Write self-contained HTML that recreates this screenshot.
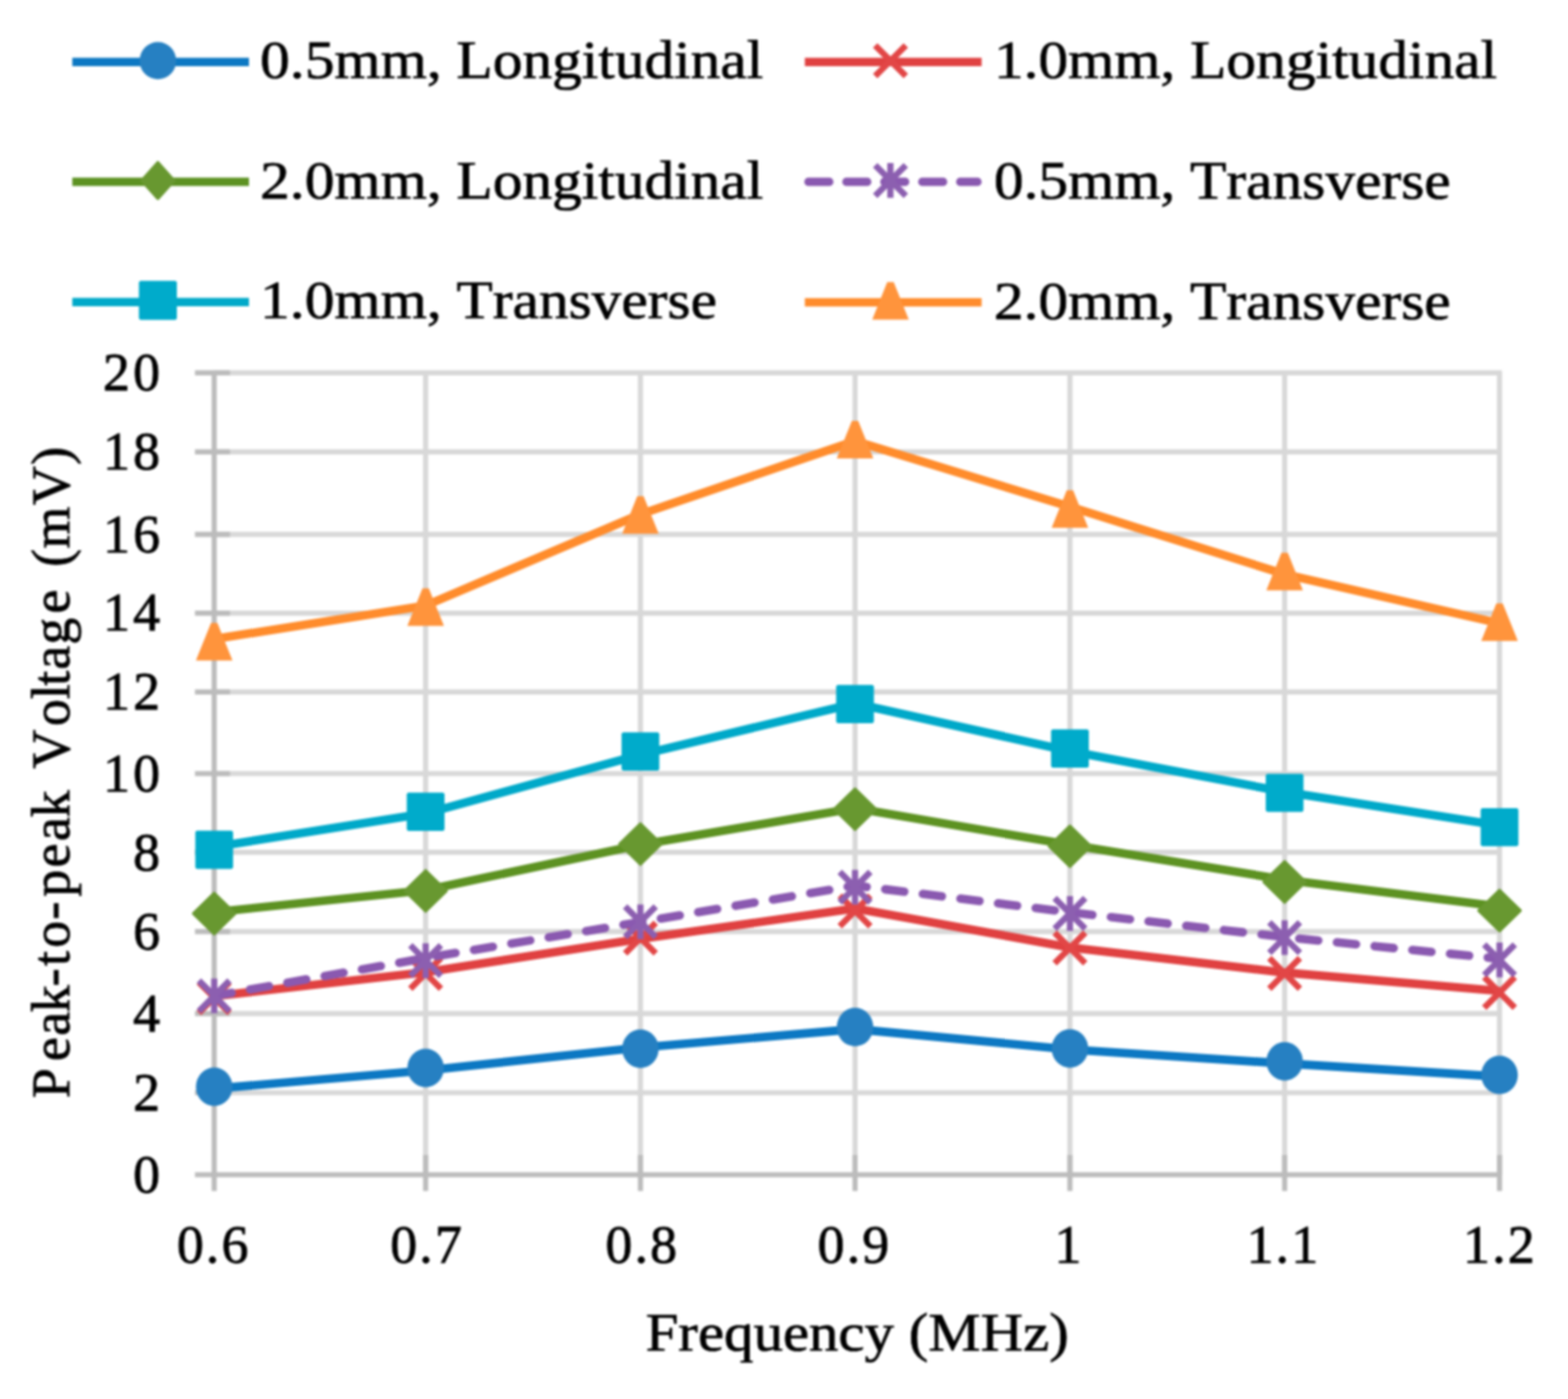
<!DOCTYPE html>
<html lang="en"><head><meta charset="utf-8"><title>Peak-to-peak Voltage vs Frequency</title>
<style>html,body{margin:0;padding:0;background:#fff}body{width:1587px;height:1416px;overflow:hidden}svg{display:block;filter:blur(1.3px)}text{font-family:"Liberation Serif","Times New Roman",serif;font-size:55.3px;font-kerning:none;fill:#000;stroke:#000;stroke-width:0.7px}</style></head><body>
<svg width="1587" height="1416" viewBox="0 0 1587 1416" role="img" aria-label="Line chart of peak-to-peak voltage (mV) versus frequency (MHz)">
<rect x="-20" y="-20" width="1627" height="1456" fill="#fff"/>
<g stroke="#D8D8D8" stroke-width="5.2" fill="none">
<line x1="216.8" y1="1106.0" x2="1519.7" y2="1106.0"/>
<line x1="216.8" y1="1025.8" x2="1519.7" y2="1025.8"/>
<line x1="216.8" y1="942.9" x2="1519.7" y2="942.9"/>
<line x1="216.8" y1="862.7" x2="1519.7" y2="862.7"/>
<line x1="216.8" y1="783.0" x2="1519.7" y2="783.0"/>
<line x1="216.8" y1="700.4" x2="1519.7" y2="700.4"/>
<line x1="216.8" y1="620.6" x2="1519.7" y2="620.6"/>
<line x1="216.8" y1="540.8" x2="1519.7" y2="540.8"/>
<line x1="216.8" y1="457.3" x2="1519.7" y2="457.3"/>
<line x1="216.8" y1="377.4" x2="1519.7" y2="377.4"/>
<line x1="430.8" y1="375.4" x2="430.8" y2="1189.0"/>
<line x1="648.2" y1="375.4" x2="648.2" y2="1189.0"/>
<line x1="865.4" y1="375.4" x2="865.4" y2="1189.0"/>
<line x1="1082.9" y1="375.4" x2="1082.9" y2="1189.0"/>
<line x1="1300.2" y1="375.4" x2="1300.2" y2="1189.0"/>
<line x1="1517.7" y1="375.4" x2="1517.7" y2="1189.0"/>
</g>
<g stroke="#BCBCBC" stroke-width="5.2" fill="none">
<line x1="216.8" y1="375.4" x2="216.8" y2="1205.5"/>
<line x1="197.3" y1="1189.0" x2="1519.7" y2="1189.0"/>
<line x1="197.3" y1="1106.0" x2="232.8" y2="1106.0"/>
<line x1="197.3" y1="1025.8" x2="232.8" y2="1025.8"/>
<line x1="197.3" y1="942.9" x2="232.8" y2="942.9"/>
<line x1="197.3" y1="862.7" x2="232.8" y2="862.7"/>
<line x1="197.3" y1="783.0" x2="232.8" y2="783.0"/>
<line x1="197.3" y1="700.4" x2="232.8" y2="700.4"/>
<line x1="197.3" y1="620.6" x2="232.8" y2="620.6"/>
<line x1="197.3" y1="540.8" x2="232.8" y2="540.8"/>
<line x1="197.3" y1="457.3" x2="232.8" y2="457.3"/>
<line x1="197.3" y1="377.4" x2="232.8" y2="377.4"/>
<line x1="430.8" y1="1169.0" x2="430.8" y2="1205.5"/>
<line x1="648.2" y1="1169.0" x2="648.2" y2="1205.5"/>
<line x1="865.4" y1="1169.0" x2="865.4" y2="1205.5"/>
<line x1="1082.9" y1="1169.0" x2="1082.9" y2="1205.5"/>
<line x1="1300.2" y1="1169.0" x2="1300.2" y2="1205.5"/>
<line x1="1517.7" y1="1169.0" x2="1517.7" y2="1205.5"/>
</g>
<polyline points="216.8,1101.9 430.8,1083.5 648.2,1060.3 865.4,1041.6 1082.9,1062.2 1300.2,1076.4 1517.7,1089.6" fill="none" stroke="#0C78C3" stroke-width="8.6" stroke-linejoin="round"/>
<ellipse cx="216.8" cy="1100.0" rx="18.5" ry="19.5" fill="#2680C2"/>
<ellipse cx="430.8" cy="1081.0" rx="18.5" ry="19.5" fill="#2680C2"/>
<ellipse cx="648.2" cy="1061.5" rx="18.5" ry="19.5" fill="#2680C2"/>
<ellipse cx="865.4" cy="1039.6" rx="18.5" ry="19.5" fill="#2680C2"/>
<ellipse cx="1082.9" cy="1061.2" rx="18.5" ry="19.5" fill="#2680C2"/>
<ellipse cx="1300.2" cy="1074.3" rx="18.5" ry="19.5" fill="#2680C2"/>
<ellipse cx="1517.7" cy="1088.0" rx="18.5" ry="19.5" fill="#2680C2"/>
<polyline points="216.8,1008.3 430.8,983.9 648.2,950.3 865.4,919.5 1082.9,958.9 1300.2,984.4 1517.7,1003.0" fill="none" stroke="#E04141" stroke-width="8.6" stroke-linejoin="round"/>
<path d="M201.3 994.2L232.3 1025.2M201.3 1025.2L232.3 994.2" stroke="#E24646" stroke-width="6.3" fill="none"/>
<path d="M415.3 969.8L446.3 1000.8M415.3 1000.8L446.3 969.8" stroke="#E24646" stroke-width="6.3" fill="none"/>
<path d="M632.7 934.0L663.7 965.0M632.7 965.0L663.7 934.0" stroke="#E24646" stroke-width="6.3" fill="none"/>
<path d="M849.9 906.5L880.9 937.5M849.9 937.5L880.9 906.5" stroke="#E24646" stroke-width="6.3" fill="none"/>
<path d="M1067.4 944.1L1098.4 975.1M1067.4 975.1L1098.4 944.1" stroke="#E24646" stroke-width="6.3" fill="none"/>
<path d="M1284.7 969.7L1315.7 1000.7M1284.7 1000.7L1315.7 969.7" stroke="#E24646" stroke-width="6.3" fill="none"/>
<path d="M1502.2 989.1L1533.2 1020.1M1502.2 1020.1L1533.2 989.1" stroke="#E24646" stroke-width="6.3" fill="none"/>
<polyline points="216.8,923.2 430.8,901.0 648.2,855.0 865.4,818.1 1082.9,855.1 1300.2,890.4 1517.7,917.4" fill="none" stroke="#5D9222" stroke-width="8.6" stroke-linejoin="round"/>
<path d="M216.8 904.1L237.8 924.6L216.8 945.1L195.8 924.6Z" fill="#689830" stroke="#689830" stroke-width="3" stroke-linejoin="round"/>
<path d="M430.8 881.2L451.8 901.7L430.8 922.2L409.8 901.7Z" fill="#689830" stroke="#689830" stroke-width="3" stroke-linejoin="round"/>
<path d="M648.2 833.8L669.2 854.3L648.2 874.8L627.2 854.3Z" fill="#689830" stroke="#689830" stroke-width="3" stroke-linejoin="round"/>
<path d="M865.4 798.5L886.4 819.0L865.4 839.5L844.4 819.0Z" fill="#689830" stroke="#689830" stroke-width="3" stroke-linejoin="round"/>
<path d="M1082.9 836.0L1103.9 856.5L1082.9 877.0L1061.9 856.5Z" fill="#689830" stroke="#689830" stroke-width="3" stroke-linejoin="round"/>
<path d="M1300.2 872.1L1321.2 892.6L1300.2 913.1L1279.2 892.6Z" fill="#689830" stroke="#689830" stroke-width="3" stroke-linejoin="round"/>
<path d="M1517.7 901.1L1538.7 921.6L1517.7 942.1L1496.7 921.6Z" fill="#689830" stroke="#689830" stroke-width="3" stroke-linejoin="round"/>
<polyline points="216.8,1008.1 430.8,969.6 648.2,933.2 865.4,896.3 1082.9,923.4 1300.2,948.5 1517.7,970.4" fill="none" stroke="#8A59B0" stroke-width="8.6" stroke-linejoin="round" stroke-dasharray="19.4 18.96" stroke-dashoffset="1.5" stroke-linecap="round"/>
<path d="M201.3 992.5L232.3 1023.5M201.3 1023.5L232.3 992.5M216.8 990.4L216.8 1025.6" stroke="#8C5FB0" stroke-width="6.3" fill="none"/>
<path d="M415.3 956.8L446.3 987.8M415.3 987.8L446.3 956.8M430.8 954.7L430.8 989.9" stroke="#8C5FB0" stroke-width="6.3" fill="none"/>
<path d="M632.7 917.5L663.7 948.5M632.7 948.5L663.7 917.5M648.2 915.4L648.2 950.6" stroke="#8C5FB0" stroke-width="6.3" fill="none"/>
<path d="M849.9 882.5L880.9 913.5M849.9 913.5L880.9 882.5M865.4 880.4L865.4 915.6" stroke="#8C5FB0" stroke-width="6.3" fill="none"/>
<path d="M1067.4 909.1L1098.4 940.1M1067.4 940.1L1098.4 909.1M1082.9 907.0L1082.9 942.2" stroke="#8C5FB0" stroke-width="6.3" fill="none"/>
<path d="M1284.7 933.5L1315.7 964.5M1284.7 964.5L1315.7 933.5M1300.2 931.4L1300.2 966.6" stroke="#8C5FB0" stroke-width="6.3" fill="none"/>
<path d="M1502.2 956.1L1533.2 987.1M1502.2 987.1L1533.2 956.1M1517.7 954.0L1517.7 989.2" stroke="#8C5FB0" stroke-width="6.3" fill="none"/>
<polyline points="216.8,857.2 430.8,823.3 648.2,763.9 865.4,712.0 1082.9,760.3 1300.2,801.5 1517.7,835.5" fill="none" stroke="#00A9C9" stroke-width="8.6" stroke-linejoin="round"/>
<rect x="197.7" y="840.8" width="38.2" height="38.6" rx="2" fill="#00ABCB"/>
<rect x="411.7" y="802.3" width="38.2" height="38.6" rx="2" fill="#00ABCB"/>
<rect x="629.1" y="741.3" width="38.2" height="38.6" rx="2" fill="#00ABCB"/>
<rect x="846.3" y="693.3" width="38.2" height="38.6" rx="2" fill="#00ABCB"/>
<rect x="1063.8" y="738.3" width="38.2" height="38.6" rx="2" fill="#00ABCB"/>
<rect x="1281.1" y="783.2" width="38.2" height="38.6" rx="2" fill="#00ABCB"/>
<rect x="1498.6" y="817.9" width="38.2" height="38.6" rx="2" fill="#00ABCB"/>
<polyline points="216.8,646.8 430.8,612.9 648.2,520.5 865.4,446.4 1082.9,512.9 1300.2,581.2 1517.7,630.9" fill="none" stroke="#FF8C2C" stroke-width="8.6" stroke-linejoin="round"/>
<path d="M213.6 630.5L220.0 630.5L235.3 668.5L198.3 668.5Z" fill="#FF943C"/>
<path d="M427.6 595.4L434.0 595.4L449.3 633.4L412.3 633.4Z" fill="#FF943C"/>
<path d="M645.0 502.3L651.4 502.3L666.7 540.3L629.7 540.3Z" fill="#FF943C"/>
<path d="M862.2 426.0L868.6 426.0L883.9 464.0L846.9 464.0Z" fill="#FF943C"/>
<path d="M1079.7 496.3L1086.1 496.3L1101.4 534.3L1064.4 534.3Z" fill="#FF943C"/>
<path d="M1297.0 559.6L1303.4 559.6L1318.7 597.6L1281.7 597.6Z" fill="#FF943C"/>
<path d="M1514.5 610.7L1520.9 610.7L1536.2 648.7L1499.2 648.7Z" fill="#FF943C"/>
<text x="165.3" y="1206.8" text-anchor="end" style="font-size:54.5px;letter-spacing:3.3px;stroke-width:0.8px">0</text>
<text x="165.3" y="1123.8" text-anchor="end" style="font-size:54.5px;letter-spacing:3.3px;stroke-width:0.8px">2</text>
<text x="165.3" y="1043.6" text-anchor="end" style="font-size:54.5px;letter-spacing:3.3px;stroke-width:0.8px">4</text>
<text x="165.3" y="960.7" text-anchor="end" style="font-size:54.5px;letter-spacing:3.3px;stroke-width:0.8px">6</text>
<text x="165.3" y="880.5" text-anchor="end" style="font-size:54.5px;letter-spacing:3.3px;stroke-width:0.8px">8</text>
<text x="165.3" y="800.8" text-anchor="end" style="font-size:54.5px;letter-spacing:3.3px;stroke-width:0.8px">10</text>
<text x="165.3" y="718.2" text-anchor="end" style="font-size:54.5px;letter-spacing:3.3px;stroke-width:0.8px">12</text>
<text x="165.3" y="638.4" text-anchor="end" style="font-size:54.5px;letter-spacing:3.3px;stroke-width:0.8px">14</text>
<text x="165.3" y="558.6" text-anchor="end" style="font-size:54.5px;letter-spacing:3.3px;stroke-width:0.8px">16</text>
<text x="165.3" y="475.1" text-anchor="end" style="font-size:54.5px;letter-spacing:3.3px;stroke-width:0.8px">18</text>
<text x="165.3" y="395.2" text-anchor="end" style="font-size:54.5px;letter-spacing:3.3px;stroke-width:0.8px">20</text>
<text x="216.3" y="1278" text-anchor="middle" style="font-size:54.5px;letter-spacing:2.2px;stroke-width:0.8px">0.6</text>
<text x="432.3" y="1278" text-anchor="middle" style="font-size:54.5px;letter-spacing:2.2px;stroke-width:0.8px">0.7</text>
<text x="650.2" y="1278" text-anchor="middle" style="font-size:54.5px;letter-spacing:2.2px;stroke-width:0.8px">0.8</text>
<text x="864.9" y="1278" text-anchor="middle" style="font-size:54.5px;letter-spacing:2.2px;stroke-width:0.8px">0.9</text>
<text x="1082.0" y="1278" text-anchor="middle" style="font-size:54.5px;letter-spacing:2.2px;stroke-width:0.8px">1</text>
<text x="1299.0" y="1278" text-anchor="middle" style="font-size:54.5px;letter-spacing:2.2px;stroke-width:0.8px">1.1</text>
<text x="1518.2" y="1278" text-anchor="middle" style="font-size:54.5px;letter-spacing:2.2px;stroke-width:0.8px">1.2</text>
<text transform="translate(867.6 1367.0) scale(1.077 1)" text-anchor="middle">Frequency (MHz)</text>
<text transform="translate(69.5 780.1) rotate(-90)" text-anchor="middle" dx="-0.8 5.1 -0.6 -2.8 -3.1 0.2 1.1 -0.9 2.9 -0.1 0.4 -2.4 0 4 1.5 -2.3 -3.6 -1.1 -1.1 2 0 5.1 -1.9 -0.7 -0.8" style="font-size:54.5px;letter-spacing:2.2px;stroke-width:0.8px">Peak-to-peak Voltage (mV)</text>
<line x1="73.2" y1="62.7" x2="252" y2="62.7" stroke="#0C78C3" stroke-width="8.5"/>
<ellipse cx="159.8" cy="61.4" rx="18.5" ry="18.9" fill="#2680C2"/>
<text transform="translate(263.3 79.3) scale(1.087 1)">0.5mm, Longitudinal</text>
<line x1="814.6" y1="62.8" x2="993.5" y2="62.8" stroke="#E04141" stroke-width="8.5"/>
<path d="M885.8 46.0L916.8 77.0M885.8 77.0L916.8 46.0" stroke="#E24646" stroke-width="6.3" fill="none"/>
<text transform="translate(1005.9 79.4) scale(1.087 1)">1.0mm, Longitudinal</text>
<line x1="73.2" y1="184" x2="252" y2="184" stroke="#5D9222" stroke-width="8.5"/>
<path d="M159.8 164.4L176.1 182.7L159.8 201.0L143.5 182.7Z" fill="#689830" stroke="#689830" stroke-width="3" stroke-linejoin="round"/>
<text transform="translate(263.3 200.6) scale(1.087 1)">2.0mm, Longitudinal</text>
<line x1="818.3" y1="184" x2="989.3" y2="184" stroke="#8A59B0" stroke-width="8.5" stroke-dasharray="21 17.4" stroke-linecap="round"/>
<path d="M885.8 167.2L916.8 198.2M885.8 198.2L916.8 167.2M901.2 165.1L901.2 200.3" stroke="#8C5FB0" stroke-width="6.3" fill="none"/>
<text transform="translate(1005.9 200.6) scale(1.087 1)">0.5mm, Transverse</text>
<line x1="73.2" y1="305.8" x2="252" y2="305.8" stroke="#00A9C9" stroke-width="8.5"/>
<rect x="140.6" y="284.3" width="38.4" height="39.4" rx="2" fill="#00ABCB"/>
<text transform="translate(263.3 322.4) scale(1.087 1)">1.0mm, Transverse</text>
<line x1="814.6" y1="305.9" x2="993.5" y2="305.9" stroke="#FF8C2C" stroke-width="8.5"/>
<path d="M898.0 285.6L904.5 285.6L919.8 323.6L882.8 323.6Z" fill="#FF943C"/>
<text transform="translate(1005.9 322.5) scale(1.087 1)">2.0mm, Transverse</text>
</svg></body></html>
